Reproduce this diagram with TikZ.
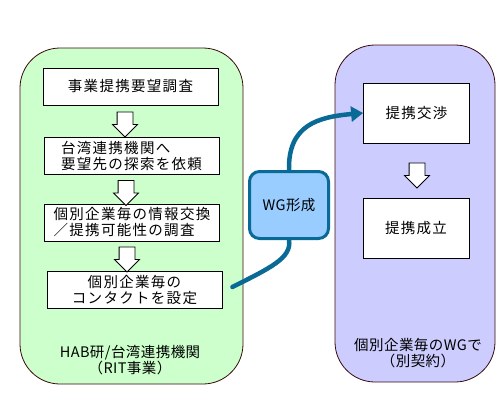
\documentclass[tikz,border=0pt]{standalone}
\usepackage{fontspec}
\setmainfont{Noto Sans CJK JP}
\usetikzlibrary{shapes.arrows,arrows.meta}
\definecolor{panelgreen}{HTML}{CCFFCC}
\definecolor{panelblue}{HTML}{CCCCFF}
\definecolor{panelline}{HTML}{3A0A0A}
\definecolor{wgfill}{HTML}{99CCFF}
\definecolor{wgline}{HTML}{0A6A96}
\newcommand\jtext{\fontsize{14.5}{16}\selectfont\addfontfeatures{LetterSpace=9}}
\newcommand\jlabel{\fontsize{14.5}{16}\selectfont\addfontfeatures{LetterSpace=3}}
\tikzset{
  panel/.style={draw=panelline, line width=0.8pt, rounded corners=40pt},
  stepbox/.style={draw, fill=white, line width=0.8pt, minimum width=175pt,
    minimum height=37pt, inner sep=2pt, font=\jtext},
  dealbox/.style={stepbox, minimum width=106pt, minimum height=60pt},
  hollow/.style={single arrow, draw, fill=white, line width=0.8pt,
    inner sep=7.5pt, single arrow head extend=4.5pt, single arrow tip angle=90,
    minimum height=25pt, shape border rotate=270},
  wgbox/.style={draw=wgline, fill=wgfill, line width=3pt, rounded corners=10pt,
    minimum width=79pt, minimum height=67pt, font=\jlabel},
  wglink/.style={draw=wgline, line width=4.5pt, line cap=round}
}
\begin{document}
\begin{tikzpicture}[x=1pt,y=-1pt]
  \useasboundingbox (0,0) rectangle (500,400);
  \draw[panel, fill=panelgreen] (20,48) rectangle (243,384);
  \draw[panel, fill=panelblue] (335,45) rectangle (495,382);
  \draw
    (130.5,86.5) node[stepbox] (s1) {事業提携要望調査}
    (131.5,155.5) node[stepbox, align=left] (s2) {台湾連携機関へ\\要望先の探索を依頼}
    (132,222.5) node[stepbox, align=left] (s3) {個別企業毎の情報交換\\／提携可能性の調査}
    (134.5,290) node[stepbox, align=center] (s4) {個別企業毎の\\ コンタクトを設定}
    (130,360) node[align=center, font=\jlabel] (hab) {HAB研/台湾連携機関\\（RIT事業）}
    (416.5,113) node[dealbox] (t1) {提携交渉}
    (416,228) node[dealbox] (t2) {提携成立}
    (418,353) node[align=center, font=\jlabel] (wgs) {個別企業毎のWGで\\（別契約）}
    (289,205) node[wgbox] (wg) {WG形成};
  % hollow arrows
  \node[hollow] (a1) at (125,120.5) {};
  \node[hollow] (a2) at (126,189) {};
  \node[hollow] (a3) at (127,255.5) {};
  \node[hollow] (b1) at (417,171.5) {};
  % WG link
  \draw[wglink] (s4.east) ++(10,-3) coordinate (c0)
    .. controls (270,268) and (292,258) .. (wg.south);
  \draw[wglink, -{Triangle[length=12pt,width=15pt]}] (wg.north)
    .. controls (288,125) and (318,117) .. (t1.west);
\end{tikzpicture}
\end{document}
